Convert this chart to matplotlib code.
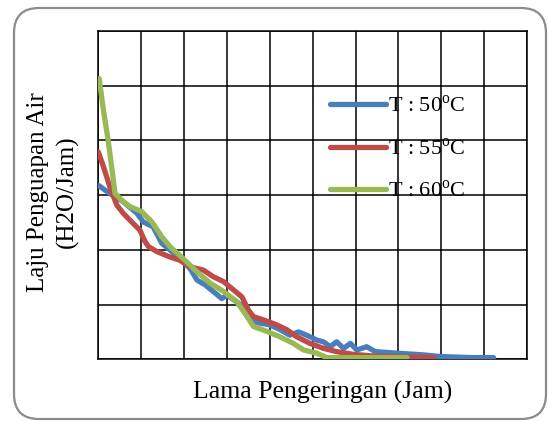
import matplotlib.pyplot as plt
from matplotlib.patches import FancyBboxPatch

plt.rcParams['font.family'] = ['Liberation Serif', 'DejaVu Serif']
plt.rcParams['mathtext.fontset'] = 'custom'
plt.rcParams['mathtext.rm'] = 'Liberation Serif'

# --- data (grid units) ---
x_50 = [0.0, 0.27, 0.58, 0.9, 1.05, 1.28, 1.48, 1.67, 1.9, 2.14, 2.3, 2.49, 2.68, 2.88, 3.0,
        3.23, 3.46, 3.62, 3.77, 4.0, 4.24, 4.47, 4.67, 4.86, 5.1, 5.25, 5.41, 5.56, 5.72,
        5.88, 6.03, 6.26, 6.46, 6.81, 7.2, 7.59, 7.98, 8.37, 8.75, 9.22]
y_50 = [3.18, 3.03, 2.88, 2.67, 2.51, 2.42, 2.12, 2.0, 1.84, 1.66, 1.45, 1.36, 1.24, 1.11, 1.17,
        1.05, 0.9, 0.69, 0.66, 0.63, 0.54, 0.44, 0.5, 0.44, 0.35, 0.32, 0.23, 0.32, 0.2,
        0.29, 0.17, 0.23, 0.14, 0.12, 0.1, 0.08, 0.05, 0.04, 0.03, 0.03]

x_55 = [0.0, 0.12, 0.27, 0.43, 0.58, 0.74, 0.97, 1.09, 1.17, 1.36, 1.67, 1.9, 2.14, 2.45, 2.68,
        2.92, 3.15, 3.35, 3.5, 3.62, 3.85, 4.16, 4.4, 4.63, 4.94, 5.25, 5.56, 5.95, 6.42, 7.2, 7.82]
y_55 = [3.79, 3.52, 3.15, 2.82, 2.67, 2.54, 2.36, 2.15, 2.06, 1.97, 1.87, 1.81, 1.69, 1.63, 1.51,
        1.42, 1.27, 1.14, 0.9, 0.78, 0.72, 0.63, 0.54, 0.41, 0.29, 0.2, 0.14, 0.09, 0.06, 0.04, 0.03]

x_60 = [0.02, 0.12, 0.23, 0.31, 0.39, 0.58, 0.74, 1.01, 1.25, 1.48, 1.67, 1.98, 2.3, 2.61, 2.92,
        3.23, 3.42, 3.62, 3.93, 4.24, 4.55, 4.79, 5.1, 5.33, 6.03, 7.2]
y_60 = [5.13, 4.55, 4.0, 3.52, 3.03, 2.88, 2.79, 2.7, 2.51, 2.24, 2.06, 1.84, 1.6, 1.39, 1.24,
        1.05, 0.84, 0.6, 0.51, 0.41, 0.29, 0.17, 0.11, 0.03, 0.03, 0.03]

labels = [r'T : 50$^{\mathrm{o}}$C', r'T : 55$^{\mathrm{o}}$C', r'T : 60$^{\mathrm{o}}$C']
colors = ['#4a7ebb', '#be4b48', '#98b954']

fig = plt.figure(figsize=(5.48, 4.21), dpi=100)

# rounded frame around the chart
frame = FancyBboxPatch((0.14, 0.02), 5.32, 4.11, boxstyle='round,pad=0,rounding_size=0.25',
                       transform=fig.dpi_scale_trans, facecolor='white',
                       edgecolor='#8c8c8c', linewidth=1.6, zorder=-5)
fig.patches.append(frame)

ax = fig.add_axes([0.1794, 0.1466, 0.7823, 0.7798], zorder=2)
ax.set_facecolor('none')

for xs, ys, lab, c in zip([x_50, x_55, x_60], [y_50, y_55, y_60], labels, colors):
    ax.plot(xs, ys, color=c, linewidth=3.8, label=lab, solid_capstyle='round',
            solid_joinstyle='round', zorder=3)

ax.set_xlim(0, 10)
ax.set_ylim(0, 6)
ax.set_xticks(range(11))
ax.set_yticks(range(7))
ax.tick_params(length=0, labelbottom=False, labelleft=False)
ax.grid(True, color='black', linewidth=1.1)
ax.set_axisbelow(True)
for s in ax.spines.values():
    s.set_color('black')
    s.set_linewidth(1.1)

leg = ax.legend(loc='upper left', bbox_to_anchor=(0.52, 0.83), frameon=False,
                fontsize=16, handlelength=2.5, handletextpad=0.1,
                labelspacing=0.95, borderaxespad=0)

fig.text(323 / 548, 1 - 392 / 421, 'Lama Pengeringan (Jam)', fontsize=18.5,
         ha='center', va='center')
fig.text(53 / 548, 1 - 192 / 421, 'Laju Penguapan Air\n(H2O/Jam)', fontsize=18,
         ha='center', va='center', rotation=90, linespacing=1.35, multialignment='center')

fig.savefig('out.png', dpi=100)
